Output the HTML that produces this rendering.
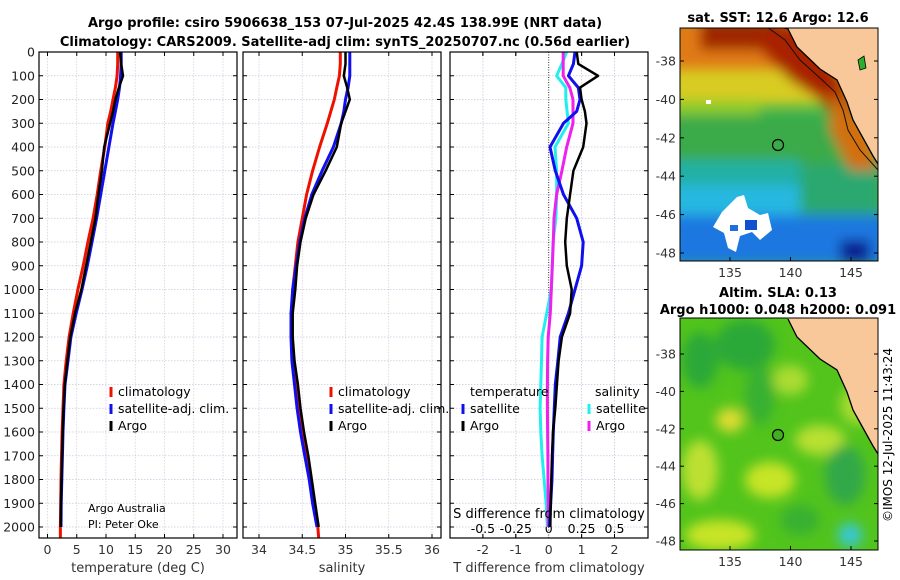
<!DOCTYPE html>
<html><head><meta charset="utf-8">
<style>
body{margin:0;background:#fff;}
svg{display:block;font-family:"DejaVu Sans","Liberation Sans",sans-serif;}
</style></head>
<body>
<svg id="fig" width="900" height="580" viewBox="0 0 900 580" xmlns="http://www.w3.org/2000/svg">
<defs>
<filter id="bl" x="-20%" y="-20%" width="140%" height="140%"><feGaussianBlur stdDeviation="6"/></filter>
<filter id="bl2" x="-20%" y="-20%" width="140%" height="140%"><feGaussianBlur stdDeviation="3"/></filter>
<clipPath id="c1"><rect x="39" y="52" width="198" height="486"/></clipPath>
<clipPath id="c2"><rect x="243" y="52" width="198" height="486"/></clipPath>
<clipPath id="c3"><rect x="450" y="52" width="198" height="486"/></clipPath>
<clipPath id="cm1"><rect x="680" y="28" width="198" height="233"/></clipPath>
<clipPath id="cm2"><rect x="680" y="318" width="198" height="232"/></clipPath>
</defs>
<text x="345" y="27" text-anchor="middle" font-size="13" font-weight="bold">Argo profile: csiro 5906638_153 07-Jul-2025 42.4S 138.99E (NRT data)</text>
<text x="345" y="46" text-anchor="middle" font-size="13" font-weight="bold">Climatology: CARS2009. Satellite-adj clim: synTS_20250707.nc (0.56d earlier)</text>

<!-- SST map -->
<g>
<g clip-path="url(#cm1)">
<rect x="680" y="28" width="198" height="233" fill="#3cb84a"/>
<g filter="url(#bl)">
<rect x="670" y="20" width="220" height="60" fill="#e07a12"/>
<rect x="670" y="70" width="220" height="35" fill="#d8cc22"/>
<rect x="670" y="100" width="90" height="20" fill="#8ccc2c"/>
<rect x="670" y="115" width="220" height="50" fill="#3aaa48"/>
<rect x="670" y="160" width="130" height="25" fill="#22b0a4"/>
<rect x="800" y="165" width="80" height="50" fill="#2aa870"/>
<rect x="670" y="185" width="130" height="35" fill="#28b8e0"/>
<rect x="670" y="215" width="220" height="50" fill="#1c78e0"/>
<rect x="700" y="20" width="80" height="30" fill="#a02606"/>
<polygon points="770,25 800,25 845,80 860,120 845,130 820,100 790,80 760,50" fill="#a82004"/>
<polygon points="830,90 870,130 878,170 850,170 830,130" fill="#d27010"/>
<rect x="840" y="240" width="30" height="22" fill="#0a1a90"/>
</g>
<polygon points="722,212 737,197 744,195 748,208 760,215 768,213 772,230 760,240 752,232 740,236 736,252 728,248 724,233 713,227" fill="#fff"/>
<rect x="730" y="225" width="8" height="6" fill="#1c70e0"/>
<rect x="745" y="220" width="12" height="10" fill="#1050d0"/>
<rect x="706" y="100" width="5" height="4" fill="#fff"/>
<polygon points="788,20 788,29 797,47 820,69 837,80 847,102 853,120 863,138 873,156 878,164 890,164 890,20" fill="#f8c89a"/>
<polyline points="760,22 788,29 797,47 820,69 837,80 847,102 853,120 863,138 873,156 878,164" fill="none" stroke="#000" stroke-width="1.3"/>
<polyline points="760,22 785,40 800,60 820,78 835,92 843,110 848,130 860,150 878,170" fill="none" stroke="#111" stroke-width="1"/>
<polygon points="858,60 864,56 866,68 860,70" fill="#2ab02a" stroke="#000" stroke-width="0.8"/>
<circle cx="778" cy="145" r="5.5" fill="none" stroke="#000" stroke-width="1.2"/>
</g>
<rect x="680" y="28" width="198" height="233" fill="none" stroke="#000" stroke-width="1"/>
</g>

<!-- SLA map -->
<g>
<g clip-path="url(#cm2)">
<rect x="680" y="318" width="198" height="232" fill="#52c41c"/>
<g filter="url(#bl)">
<ellipse cx="700" cy="360" rx="18" ry="28" fill="#2aa838"/>
<ellipse cx="745" cy="345" rx="30" ry="25" fill="#2aa838"/>
<ellipse cx="730" cy="420" rx="14" ry="12" fill="#e0dc30"/>
<ellipse cx="700" cy="470" rx="18" ry="30" fill="#bce030"/>
<ellipse cx="770" cy="480" rx="25" ry="18" fill="#c8e428"/>
<ellipse cx="820" cy="440" rx="25" ry="15" fill="#b8e030"/>
<ellipse cx="720" cy="535" rx="35" ry="15" fill="#c8e428"/>
<ellipse cx="845" cy="475" rx="20" ry="30" fill="#30a848"/>
<ellipse cx="850" cy="535" rx="12" ry="12" fill="#38c8d8"/>
<ellipse cx="790" cy="380" rx="18" ry="15" fill="#aadc30"/>
<ellipse cx="760" cy="395" rx="15" ry="30" fill="#38b030"/>
<ellipse cx="800" cy="520" rx="20" ry="15" fill="#38b030"/>
<ellipse cx="860" cy="405" rx="20" ry="20" fill="#a8dc30"/>
</g>
<polygon points="788,310 788,319 797,337 820,359 837,370 847,392 853,410 863,428 873,446 878,454 890,454 890,310" fill="#f8c89a"/>
<polygon points="800,318 830,340 850,365 860,390 878,420 878,360 840,330" fill="#eeb020" opacity="0.8"/>
<polygon points="788,310 788,319 797,337 820,359 837,370 847,392 853,410 863,428 873,446 878,454 890,454 890,310" fill="#f8c89a"/>
<polyline points="788,319 797,337 820,359 837,370 847,392 853,410 863,428 873,446 878,454" fill="none" stroke="#000" stroke-width="1.3"/>
<circle cx="778" cy="435" r="5.5" fill="#40b020" stroke="#000" stroke-width="1.2"/>
</g>
<rect x="680" y="318" width="198" height="232" fill="none" stroke="#000" stroke-width="1"/>
</g>

<text x="778" y="22" text-anchor="middle" font-size="13" font-weight="bold">sat. SST: 12.6 Argo: 12.6</text>
<text x="778" y="297" text-anchor="middle" font-size="13" font-weight="bold">Altim. SLA: 0.13</text>
<text x="778" y="314" text-anchor="middle" font-size="13" font-weight="bold">Argo h1000: 0.048 h2000: 0.091</text>
<text transform="translate(892,435) rotate(-90)" text-anchor="middle" font-size="12">©IMOS 12-Jul-2025 11:43:24</text>
<g id="plots"></g>
</svg>
<script>
const depths=[0,50,100,150,200,250,300,400,500,600,700,800,900,1000,1100,1200,1300,1400,1500,1600,1700,1800,1900,2000];
const tempClim=[12.0,12.0,11.9,11.6,11.2,10.8,10.3,9.8,9.1,8.5,7.8,6.9,6.1,5.2,4.4,3.7,3.2,2.8,2.65,2.5,2.4,2.3,2.25,2.2];
const tempSat=[12.6,12.6,12.5,12.3,12.0,11.6,11.2,10.5,9.8,9.1,8.4,7.6,6.8,5.9,4.9,4.0,3.5,3.0,2.8,2.65,2.55,2.45,2.35,2.3];
const tempArgo=[12.4,12.6,12.9,12.2,11.6,11.2,10.7,9.7,9.3,8.7,8.2,7.4,6.6,5.8,4.7,3.9,3.4,2.95,2.75,2.6,2.5,2.4,2.3,2.25];
const salClim=[34.94,34.94,34.93,34.9,34.87,34.83,34.79,34.7,34.62,34.55,34.5,34.45,34.42,34.39,34.38,34.38,34.39,34.43,34.46,34.5,34.55,34.6,34.64,34.68];
const salSat=[35.05,35.05,35.05,35.03,35.0,34.98,34.95,34.86,34.73,34.61,34.53,34.47,34.43,34.39,34.37,34.37,34.38,34.41,34.44,34.48,34.53,34.58,34.62,34.67];
const salArgo=[35.0,35.0,34.98,35.02,35.05,35.0,34.95,34.9,34.77,34.63,34.54,34.48,34.44,34.42,34.39,34.39,34.41,34.45,34.48,34.52,34.57,34.61,34.65,34.69];
const dTsat=[0.8,0.75,0.6,0.9,0.95,0.85,0.45,0.04,0.2,0.45,0.85,1.05,1.0,0.8,0.6,0.35,0.28,0.2,0.17,0.14,0.12,0.1,0.06,0.02];
const dTargo=[0.85,0.9,1.5,0.95,1.0,1.1,1.15,1.05,0.75,0.65,0.55,0.5,0.55,0.7,0.65,0.4,0.3,0.25,0.2,0.13,0.1,0.08,0.06,0.05];
const dSsat=[0.137,0.1,0.06,0.13,0.13,0.14,0.15,0.048,0.06,0.06,0.055,0.033,0.027,0.02,-0.015,-0.05,-0.055,-0.06,-0.065,-0.06,-0.05,-0.035,-0.02,-0.01];
const dSargo=[0.11,0.11,0.11,0.16,0.185,0.185,0.185,0.137,0.1,0.06,0.04,0.035,0.027,0.02,0.012,-0.004,-0.008,-0.01,-0.01,-0.008,-0.006,-0.005,-0.004,-0.003];
const depthTicks=[0,100,200,300,400,500,600,700,800,900,1000,1100,1200,1300,1400,1500,1600,1700,1800,1900,2000];
const tempTicks=[0,5,10,15,20,25,30];
const salTicks=[34,34.5,35,35.5,36];
const salTickLabels=["34","34.5","35","35.5","36"];
const dTTicks=[-2,-1,0,1,2];
const dSTicks=[-0.5,-0.25,0,0.25,0.5];
const dSTickLabels=["-0.5","-0.25","0","0.25","0.5"];

const NS="http://www.w3.org/2000/svg";
const root=document.getElementById('plots');
const yD=d=>52+d*0.2375;
const xT=t=>47.5+t*5.85;
const xS=s=>259+(s-34)*86.5;
const xdT=v=>548.7+v*32.9;
const xdS=v=>548.7+v*131.6;
function mk(tag,attrs,parent){const e=document.createElementNS(NS,tag);for(const k in attrs)e.setAttribute(k,attrs[k]);(parent||root).appendChild(e);return e;}
function txt(x,y,s,size,anchor,parent){const t=mk('text',{x:x,y:y,'font-size':size,'text-anchor':anchor||'middle'},parent);t.textContent=s;return t;}

const panels=[{x0:39,clip:'c1',name:'temperature-panel'},{x0:243,clip:'c2',name:'salinity-panel'},{x0:450,clip:'c3',name:'difference-panel'}];
const pg=[];
panels.forEach((p,i)=>{
  const g=mk('g',{});
  
  
  pg.push(g);
  // horizontal grid
  depthTicks.forEach(d=>{
    const y=yD(d);
    mk('line',{x1:p.x0,x2:p.x0+198,y1:y,y2:y,stroke:'#c8c8e0','stroke-width':0.7,'stroke-dasharray':'1.5,1.5'},g);
    mk('line',{x1:p.x0,x2:p.x0+4,y1:y,y2:y,stroke:'#000','stroke-width':1},g);
    mk('line',{x1:p.x0+194,x2:p.x0+198,y1:y,y2:y,stroke:'#000','stroke-width':1},g);
  });
});
function vgrid(g,x){mk('line',{x1:x,x2:x,y1:52,y2:538,stroke:'#d8c8d8','stroke-width':0.7,'stroke-dasharray':'1.5,1.5'},g);mk('line',{x1:x,x2:x,y1:538,y2:534,stroke:'#000'},g);mk('line',{x1:x,x2:x,y1:52,y2:56,stroke:'#000'},g);}
tempTicks.forEach(t=>{vgrid(pg[0],xT(t));txt(xT(t),554,String(t),12.5,'middle',pg[0]).setAttribute('fill','#333');});
salTicks.forEach((s,i)=>{vgrid(pg[1],xS(s));txt(xS(s),554,salTickLabels[i],12.5,'middle',pg[1]).setAttribute('fill','#333');});
dTTicks.forEach(v=>{if(v!==0)vgrid(pg[2],xdT(v));txt(xdT(v),554,String(v),12.5,'middle',pg[2]).setAttribute('fill','#333');});
dSTicks.forEach((v,i)=>{if(v!==0)vgrid(pg[2],xdS(v));txt(xdS(v),533,dSTickLabels[i],12.5,'middle',pg[2]);});
mk('line',{x1:xdT(0),x2:xdT(0),y1:52,y2:538,stroke:'#333','stroke-width':1,'stroke-dasharray':'1,1.5'},pg[2]);
depthTicks.forEach(d=>{const t=txt(35,yD(d)+4.5,String(d),12.5,'end',pg[0]);t.setAttribute('fill','#222');});

function line(g,clip,xs,fx,col,w,name){
  const pts=depths.map((d,i)=>fx(xs[i]).toFixed(1)+','+yD(d).toFixed(1)).join(' ');
  const l=mk('polyline',{points:pts,fill:'none',stroke:col,'stroke-width':w,'stroke-linejoin':'round','clip-path':'url(#'+clip+')'},g);
  
  
  return l;
}
line(pg[0],'c1',tempClim,xT,'#ee1100',3,'temperature-climatology-line');
line(pg[0],'c1',tempSat,xT,'#1010ee',3,'temperature-satellite-line');
line(pg[0],'c1',tempArgo,xT,'#000',2.5,'temperature-argo-line');
line(pg[1],'c2',salClim,xS,'#ee1100',3,'salinity-climatology-line');
line(pg[1],'c2',salSat,xS,'#1010ee',3,'salinity-satellite-line');
line(pg[1],'c2',salArgo,xS,'#000',2.5,'salinity-argo-line');
line(pg[2],'c3',dSsat,xdS,'#22eeee',3,'salinity-diff-satellite-line');
line(pg[2],'c3',dSargo,xdS,'#ee22ee',3,'salinity-diff-argo-line');
line(pg[2],'c3',dTsat,xdT,'#1010ee',3,'temperature-diff-satellite-line');
line(pg[2],'c3',dTargo,xdT,'#000',2.5,'temperature-diff-argo-line');
// extension of clim lines to bottom
mk('line',{x1:xT(2.2),x2:xT(2.2),y1:yD(2000),y2:538,stroke:'#ee1100','stroke-width':3},pg[0]);
mk('line',{x1:xS(34.68),x2:xS(34.69),y1:yD(2000),y2:538,stroke:'#ee1100','stroke-width':3},pg[1]);

panels.forEach((p,i)=>{mk('rect',{x:p.x0,y:52,width:198,height:486,fill:'none',stroke:'#000','stroke-width':1.2},pg[i]);});

function leg(g,x,y,col,label,name){
  const e=mk('g',{},g);
  
  
  mk('line',{x1:x,x2:x,y1:y-9,y2:y+1,stroke:col,'stroke-width':3},e);
  txt(x+7,y,label,12.5,'start',e);
}
leg(pg[0],111,396,'#ee1100','climatology','legend-entry-climatology');
leg(pg[0],111,413,'#1010ee','satellite-adj. clim.','legend-entry-satellite');
leg(pg[0],111,430,'#000','Argo','legend-entry-argo');
leg(pg[1],331,396,'#ee1100','climatology','legend-entry-climatology-sal');
leg(pg[1],331,413,'#1010ee','satellite-adj. clim.','legend-entry-satellite-sal');
leg(pg[1],331,430,'#000','Argo','legend-entry-argo-sal');
txt(470,396,'temperature',12.5,'start',pg[2]);
txt(595,396,'salinity',12.5,'start',pg[2]);
leg(pg[2],463,413,'#1010ee','satellite','legend-entry-temp-satellite');
leg(pg[2],463,430,'#000','Argo','legend-entry-temp-argo');
leg(pg[2],589,413,'#22eeee','satellite','legend-entry-sal-satellite');
leg(pg[2],589,430,'#ee22ee','Argo','legend-entry-sal-argo');
txt(88,512,'Argo Australia',11,'start',pg[0]);
txt(88,528,'PI: Peter Oke',11,'start',pg[0]);
txt(549,518,'S difference from climatology',13,'middle',pg[2]);
txt(138,572,'temperature (deg C)',13,'middle',pg[0]).setAttribute('fill','#333');
txt(342,572,'salinity',13,'middle',pg[1]).setAttribute('fill','#333');
txt(549,572,'T difference from climatology',13,'middle',pg[2]).setAttribute('fill','#333');

// map axes
const latTicks=[-38,-40,-42,-44,-46,-48];
const lonTicks=[135,140,145];
const mapFrames=[{top:28,y38:61,y48:253,name:'sst'},{top:318,y38:354,y48:541,name:'sla'}];
const mg=mk('g',{});


mapFrames.forEach(m=>{
  latTicks.forEach(l=>{const y=m.y38+(-38-l)/10*(m.y48-m.y38);txt(676,y+4.5,String(l),12.5,'end',mg).setAttribute('fill','#333');mk('line',{x1:680,x2:684,y1:y,y2:y,stroke:'#000'},mg);mk('line',{x1:874,x2:878,y1:y,y2:y,stroke:'#000'},mg);});
  const bot=m.name==='sst'?261:550;
  lonTicks.forEach(l=>{const x=730+(l-135)*12.1;txt(x,bot+16,String(l),12.5,'middle',mg).setAttribute('fill','#333');mk('line',{x1:x,x2:x,y1:bot,y2:bot-4,stroke:'#000'},mg);});
});
</script>
</body></html>
